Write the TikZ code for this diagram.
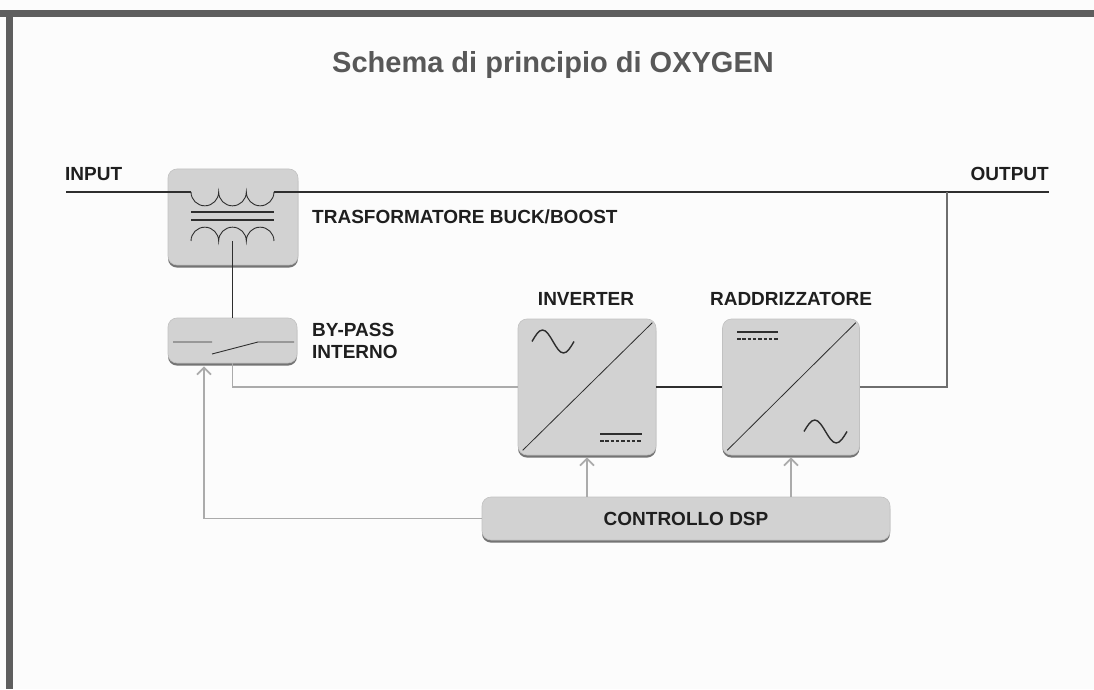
\documentclass[tikz,border=0pt]{standalone}
\usepackage{fontspec}
\setmainfont{Liberation Sans}
\usetikzlibrary{arrows.meta,shadows}

\definecolor{framegray}{HTML}{5E5E5E}
\definecolor{titlegray}{HTML}{585858}
\definecolor{labelgray}{HTML}{1F1F1F}
\definecolor{boxfill}{HTML}{D2D2D2}
\definecolor{wiredark}{HTML}{2E2E2E}
\definecolor{wiremid}{HTML}{6E6E6E}
\definecolor{wirelight}{HTML}{ABABAB}

\tikzset{
  block/.style={draw=boxfill!92!black, fill=boxfill, rounded corners=9pt, line width=0.6pt,
    drop shadow={shadow xshift=0pt, shadow yshift=-2.6pt, fill=black!60, opacity=0.9}},
  lbl/.style={font=\bfseries\fontsize{19}{22}\selectfont, text=labelgray, inner sep=0pt},
  wire/.style={draw=wiredark, line width=1.2pt},
  sym/.style={draw=wiredark, line width=0.9pt},
  ctrl/.style={draw=wirelight, line width=1.8pt, -{Straight Barb[length=7pt,width=14pt]}},
}

\begin{document}
\begin{tikzpicture}[x=1pt,y=1pt]
    \useasboundingbox (0,0) rectangle (1094,689);
    \fill[white!99!black] (0,0) rectangle (1094,689);
    %% frame
    \fill[framegray] (0,672) rectangle (1094,679);
    \fill[framegray] (6,0) rectangle (13,679);
    \node[font=\bfseries\fontsize{29}{34}\selectfont, text=titlegray, anchor=base] (title) at (553,616) {Schema di principio di OXYGEN};
    %% blocks
    \node[block, minimum width=130pt, minimum height=96pt] (trafo) at (233,472) {};
    \node[block, minimum width=129pt, minimum height=45pt] (bypass) at (232.5,348.5) {};
    \node[block, minimum width=138pt, minimum height=136pt] (inv) at (587,302) {};
    \node[block, minimum width=137pt, minimum height=136pt] (rect) at (791,302) {};
    \node[block, lbl, minimum width=408pt, minimum height=43pt] (dsp) at (686,170.5) {CONTROLLO DSP};
    %% labels
    \node[lbl, anchor=base west] (inlbl) at (65,508) {INPUT};
    \node[lbl, anchor=base east] (outlbl) at (1049,508) {OUTPUT};
    \node[lbl, anchor=west] (trafolbl) at (312,472) {TRASFORMATORE BUCK/BOOST};
    \node[lbl, anchor=west, align=left] (bypasslbl) at (312,348) {BY-PASS\\INTERNO};
    \node[lbl, anchor=base] (invlbl) at (586,384) {INVERTER};
    \node[lbl, anchor=base] (rectlbl) at (791,384) {RADDRIZZATORE};
    %% main line with primary winding
    \coordinate (inend) at (66,497);
    \coordinate (outend) at (1049,497);
    \coordinate (outjoint) at (947,497);
    \draw[wire] (inend) -- (191,497);
    \draw[sym] (191,497) arc[start angle=180,end angle=360,radius=13.83]
        arc[start angle=180,end angle=360,radius=13.83]
        arc[start angle=180,end angle=360,radius=13.83] coordinate (tout);
    \draw[wire] (tout) -- (outend);
    %% core and secondary winding
    \draw[wire, line width=1.5pt] (191,477) -- (274,477) (191,469) -- (274,469);
    \draw[sym] (191,448) arc[start angle=180,end angle=0,radius=13.83]
        arc[start angle=180,end angle=0,radius=13.83]
        arc[start angle=180,end angle=0,radius=13.83];
    \coordinate (tsec) at (232.5,448);
    \draw[wire, line width=0.9pt] (tsec) -- (bypass.north);
    %% by-pass switch
    \draw[sym] (173,347) -- (212,347) (212,335) -- (258,347) -- (294,347);
    \draw[draw=wirelight, line width=1.2pt] (bypass.south) |- (inv.west);
    %% inverter
    \draw[sym, line width=0.8pt] ([shift={(5,5)}]inv.south west) -- ([shift={(-4,-4)}]inv.north east);
    \draw[sym, line width=1.4pt] (532,347.5) sin (542.5,359) cos (553,347.5) sin (563.5,336) cos (574,347.5);
    \draw[sym, line width=1.2pt] (600,255) -- (642,255);
    \draw[sym, line width=1.2pt, dash pattern=on 3.5pt off 1.8pt] (600,248) -- (642,248);
    \draw[wire] (inv.east) -- (rect.west);
    %% rectifier
    \draw[sym, line width=0.8pt] ([shift={(5,5)}]rect.south west) -- ([shift={(-4,-4)}]rect.north east);
    \draw[sym, line width=1.2pt] (737,357) -- (778,357);
    \draw[sym, line width=1.2pt, dash pattern=on 3.5pt off 1.8pt] (737,350) -- (778,350);
    \draw[sym, line width=1.4pt] (804,257.5) sin (814.75,269) cos (825.5,257.5) sin (836.25,246) cos (847,257.5);
    \draw[wire, draw=wiremid] (rect.east) -| (outjoint);
    %% control
    \draw[ctrl, shorten >=2pt] (dsp.north -| inv.south) -- (inv.south);
    \draw[ctrl, shorten >=2pt] (dsp.north -| rect.south) -- (rect.south);
    \draw[ctrl, shorten >=3pt] (dsp.west) -| ([xshift=-28.5pt]bypass.south);
\end{tikzpicture}
\end{document}
